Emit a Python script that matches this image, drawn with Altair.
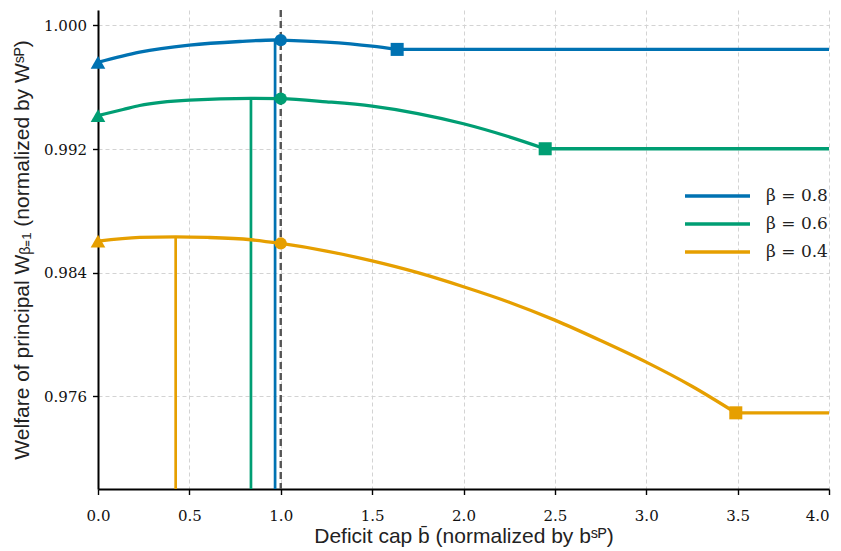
import altair as alt
import pandas as pd

# ---- data ----
labels = ["β = 0.8", "β = 0.6", "β = 0.4"]
colors = ["#0072B2", "#009E73", "#E69F00"]

blue_x = [0.0, 0.228, 0.5, 0.775, 0.969, 1.0, 1.25, 1.5, 1.637]
blue_y = [0.99761, 0.99827, 0.99872, 0.99896, 0.99906, 0.99905, 0.99892, 0.99866, 0.99845]

green_x = [0.0, 0.137, 0.228, 0.5, 0.837, 1.0, 1.25, 1.5, 1.75, 2.0, 2.24, 2.447]
green_y = [0.99417, 0.99456, 0.99482, 0.99517, 0.99528, 0.99526, 0.99506, 0.99478,
           0.99430, 0.99364, 0.99283, 0.99202]

orange_x = [0.0, 0.228, 0.425, 0.6, 0.837, 1.0, 1.25, 1.5, 1.75, 2.0, 2.25, 2.5,
            2.75, 3.0, 3.25, 3.49]
orange_y = [0.98604, 0.98628, 0.98632, 0.98628, 0.98613, 0.98589, 0.98540, 0.98476,
            0.98400, 0.98309, 0.98209, 0.98093, 0.97961, 0.97821, 0.97665, 0.97493]

x_max = 4.0
peak_x = [0.969, 0.837, 0.425]
peak_y = [0.99906, 0.99528, 0.98632]
ref_x = 1.0

y_ticks = [0.976, 0.984, 0.992, 1.000]
x_ticks = [0.0, 0.5, 1.0, 1.5, 2.0, 2.5, 3.0, 3.5, 4.0]
y_domain = [0.970, 1.001]
x_domain = [0.0, 4.0]

series = [(labels[0], colors[0], blue_x, blue_y),
          (labels[1], colors[1], green_x, green_y),
          (labels[2], colors[2], orange_x, orange_y)]

# ---- tables ----
rows = []
for lab, col, xs, ys in series:
    for i, (a, b) in enumerate(zip(xs, ys)):
        rows.append({"beta": lab, "seg": lab + "c", "x": a, "y": b, "order": i})
    rows.append({"beta": lab, "seg": lab + "f", "x": xs[-1], "y": ys[-1], "order": 0})
    rows.append({"beta": lab, "seg": lab + "f", "x": x_max, "y": ys[-1], "order": 1})
lines_df = pd.DataFrame(rows)

marks = []
for lab, col, xs, ys in series:
    marks.append({"col": col, "kind": "start", "x": xs[0], "y": ys[0]})
    marks.append({"col": col, "kind": "ref", "x": ref_x, "y": ys[xs.index(ref_x)]})
    marks.append({"col": col, "kind": "end", "x": xs[-1], "y": ys[-1]})
marks_df = pd.DataFrame(marks)

peaks_df = pd.DataFrame({"col": colors, "x": peak_x, "y": peak_y, "y0": [y_domain[0]] * 3})

xs = alt.Scale(domain=x_domain, nice=False, zero=False)
ys = alt.Scale(domain=y_domain, nice=False, zero=False)
cs = alt.Scale(domain=labels, range=colors)

X = alt.X("x:Q", scale=xs, axis=alt.Axis(
    values=x_ticks, format=".1f", labelPadding=14, labelFlush=False,
    labelAlign=alt.expr("datum.value >= 4 ? 'right' : 'center'"),
    title="Deficit cap b̄ (normalized by bˢᴾ)", titlePadding=2))
Y = alt.Y("y:Q", scale=ys, axis=alt.Axis(values=y_ticks, format=".3f", labelPadding=6,
          labelFlush=False, title="Welfare of principal Wᵦ₌₁ (normalized by Wˢᴾ)",
          titlePadding=11))

peaks = alt.Chart(peaks_df).mark_rule(strokeWidth=2.7).encode(
    x=alt.X("x:Q", scale=xs),
    y=alt.Y("y0:Q", scale=ys),
    y2="y:Q",
    stroke=alt.Stroke("col:N", scale=None),
)

ref_line = alt.Chart(pd.DataFrame({"x": [ref_x]})).mark_rule(
    color="#555555", strokeWidth=2.4, strokeDash=[7, 4]
).encode(x=alt.X("x:Q", scale=xs))

curves = alt.Chart(lines_df).mark_line(strokeWidth=3.3, interpolate="monotone").encode(
    x=X, y=Y,
    detail="seg:N",
    order="order:Q",
    color=alt.Color("beta:N", scale=cs, legend=alt.Legend(
        title=None, orient="none", legendX=585, legendY=173, padding=0,
        symbolType="stroke", symbolSize=4225, symbolStrokeWidth=3.3, clipHeight=26,
        rowPadding=2, labelOffset=14, labelFont="DejaVu Serif", labelFontSize=17,
        labelColor="#222222")),
)


def pts(kind, shape, size):
    return alt.Chart(marks_df).transform_filter(alt.datum.kind == kind).mark_point(
        shape=shape, size=size, filled=True, opacity=1, strokeWidth=0
    ).encode(x=alt.X("x:Q", scale=xs), y=alt.Y("y:Q", scale=ys),
             fill=alt.Fill("col:N", scale=None))


chart = alt.layer(
    peaks, ref_line, curves,
    pts("start", "triangle-up", 215), pts("ref", "circle", 150), pts("end", "square", 170),
).properties(
    width=731, height=479,
    autosize=alt.AutoSizeParams(type="none"),
    padding={"left": 90, "top": 2, "right": 4, "bottom": 60},
).configure_view(stroke=None).configure_axis(
    domainColor="black", domainWidth=2, tickColor="black", tickWidth=1.4, tickSize=5.5,
    grid=True, gridColor="#d3d3d3", gridDash=[4, 3], gridWidth=1,
    labelFont="DejaVu Serif", labelFontSize=15, labelColor="#111111",
    titleFont="Liberation Sans", titleFontSize=21, titleFontWeight="normal", titleColor="#222222",
)

chart.save("out.html", embed_options={"renderer": "svg", "actions": False})
